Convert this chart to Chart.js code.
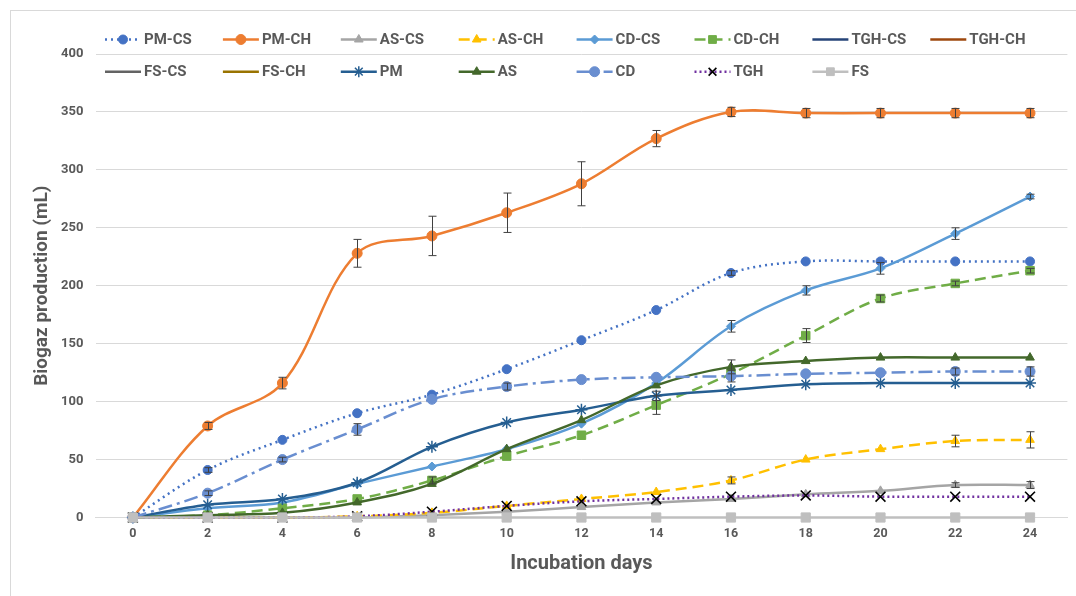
<!DOCTYPE html>
<html>
<head>
<meta charset="utf-8">
<script src="https://cdn.jsdelivr.net/npm/chart.js@4.4.1/dist/chart.umd.min.js"></script>
<style>
  body { margin: 0; background: #fff; }
  #wrap { width: 1076px; height: 596px; position: relative; }
</style>
</head>
<body>
<div id="wrap"><canvas id="myChart" width="1076" height="596"></canvas></div>
<script>
const MY_CHART = document.querySelector("#myChart");

// incubation days
const DAYS = ["0","2","4","6","8","10","12","14","16","18","20","22","24"];
const Y_TICKS = [0, 50, 100, 150, 200, 250, 300, 350, 400];

// biogas production (mL)
const PM_CS  = [0, 41, 67, 90, 106, 128, 153, 179, 211, 221, 221, 221, 221];
const PM_CH  = [0, 79, 116, 228, 243, 263, 288, 327, 350, 349, 349, 349, 349];
const AS_CS  = [0, 0, 0, 0, 2, 5, 9, 13, 16, 20, 23, 28, 28];
const AS_CH  = [0, 0, 0, 1, 4, 10, 16, 22, 32, 50, 59, 66, 67];
const CD_CS  = [0, 8, 13, 29, 44, 59, 81, 116, 165, 196, 215, 245, 277];
const CD_CH  = [0, 2, 8, 16, 32, 53, 71, 97, 124, 157, 189, 202, 213];
const TGH_CS = [];
const TGH_CH = [];
const FS_CS  = [];
const FS_CH  = [];
const PM     = [0, 11, 16, 30, 61, 82, 93, 105, 110, 115, 116, 116, 116];
const AS     = [0, 2, 4, 13, 29, 59, 84, 114, 130, 135, 138, 138, 138];
const CD     = [0, 21, 50, 76, 102, 113, 119, 121, 122, 124, 125, 126, 126];
const TGH    = [0, 0, 0, 1, 5, 10, 14, 16, 18, 19, 18, 18, 18];
const FS     = [0, 0, 0, 0, 0, 0, 0, 0, 0, 0, 0, 0, 0];

// standard deviations (error bars)
const PM_CH_ERR = [0, 3, 5, 12, 17, 17, 19, 7, 4, 4, 4, 4, 4];
const PM_CS_ERR = [0, 2, 0, 0, 0, 0, 0, 0, 2, 0, 0, 0, 0];
const CD_CS_ERR = [0, 0, 0, 0, 0, 0, 0, 0, 5, 4, 5, 5, 2];
const CD_CH_ERR = [0, 0, 0, 0, 3, 0, 0, 8, 0, 6, 3, 2, 2];
const CD_ERR    = [0, 2, 2, 5, 0, 3, 0, 0, 5, 0, 0, 3, 4];
const AS_ERR    = [0, 0, 0, 0, 0, 0, 0, 0, 6, 0, 0, 0, 0];
const AS_CH_ERR = [0, 0, 0, 0, 0, 0, 0, 0, 3, 0, 0, 5, 7];
const AS_CS_ERR = [0, 0, 0, 0, 0, 0, 0, 0, 0, 0, 0, 2, 3];
const PM_ERR    = [0, 0, 0, 0, 0, 0, 0, 4, 0, 0, 0, 0, 0];

const TXT = "#595959";
const FONT = "Roboto, 'Liberation Sans', sans-serif";

function series(label, values, color, opts) {
  return Object.assign({
    label: label,
    data: values,
    borderColor: color,
    backgroundColor: color,
    pointBackgroundColor: color,
    pointBorderColor: color,
    borderWidth: 2.5,
    pointRadius: 4.5,
    pointBorderWidth: 1,
    pointStyle: false,
    tension: 0.35,
    clip: false,
    borderDash: []
  }, opts);
}

const datasets = [
  series("PM-CS", PM_CS, "#4472C4", { pointStyle: "circle", borderDash: [2, 4], err: PM_CS_ERR }),
  series("PM-CH", PM_CH, "#ED7D31", { pointStyle: "circle", pointRadius: 5, err: PM_CH_ERR }),
  series("AS-CS", AS_CS, "#A5A5A5", { pointStyle: "triangle", pointRadius: 5, err: AS_CS_ERR }),
  series("AS-CH", AS_CH, "#FFC000", { pointStyle: "triangle", pointRadius: 5, borderDash: [11, 6], err: AS_CH_ERR }),
  series("CD-CS", CD_CS, "#5B9BD5", { pointStyle: "rectRot", pointRadius: 4.5, err: CD_CS_ERR }),
  series("CD-CH", CD_CH, "#70AD47", { pointStyle: "rect", pointRadius: 6, borderDash: [11, 6], err: CD_CH_ERR }),
  series("TGH-CS", TGH_CS, "#264478", {}),
  series("TGH-CH", TGH_CH, "#9E480E", {}),
  series("FS-CS", FS_CS, "#636363", {}),
  series("FS-CH", FS_CH, "#997300", {}),
  series("PM", PM, "#255E91", { pointStyle: "star", pointRadius: 6, pointBorderWidth: 1.5, err: PM_ERR }),
  series("AS", AS, "#43682B", { pointStyle: "triangle", pointRadius: 5, err: AS_ERR }),
  series("CD", CD, "#698ED0", { pointStyle: "circle", pointRadius: 5, borderDash: [14, 5, 3, 5], err: CD_ERR }),
  series("TGH", TGH, "#7030A0", { pointStyle: "crossRot", pointRadius: 7, pointBorderWidth: 1.6,
    pointBorderColor: "#000", pointBackgroundColor: "#000", borderDash: [2, 3] }),
  series("FS", FS, "#BFBFBF", { pointStyle: "rect", pointRadius: 6.5 })
];
// later series on top, like the spreadsheet
datasets.forEach((d, i) => { d.order = datasets.length - i; });

const data = { labels: DAYS, datasets: datasets };

// border round the whole chart
const framePlugin = {
  id: "frame",
  beforeDraw(chart) {
    const ctx = chart.ctx;
    ctx.save();
    ctx.fillStyle = "#fff";
    ctx.fillRect(0, 0, chart.width, chart.height);
    ctx.strokeStyle = "#D9D9D9";
    ctx.lineWidth = 1;
    ctx.strokeRect(10.5, 10.5, chart.width + 20, chart.height + 20);
    ctx.restore();
  }
};

// vertical error bars with caps
const errorBarPlugin = {
  id: "errorBars",
  afterDatasetsDraw(chart) {
    const ctx = chart.ctx;
    const y = chart.scales.y;
    ctx.save();
    ctx.strokeStyle = "#404040";
    ctx.lineWidth = 1;
    chart.data.datasets.forEach((ds, i) => {
      if (!ds.err) return;
      const meta = chart.getDatasetMeta(i);
      meta.data.forEach((pt, j) => {
        const e = ds.err[j];
        if (!e) return;
        const v = ds.data[j];
        const top = y.getPixelForValue(v + e);
        const bot = y.getPixelForValue(Math.max(0, v - e));
        const x = Math.round(pt.x) + 0.5;
        ctx.beginPath();
        ctx.moveTo(x, top); ctx.lineTo(x, bot);
        ctx.moveTo(x - 4, top); ctx.lineTo(x + 4, top);
        ctx.moveTo(x - 4, bot); ctx.lineTo(x + 4, bot);
        ctx.stroke();
      });
    });
    ctx.restore();
  }
};

// legend drawn as line + marker, two rows of columns
const legendPlugin = {
  id: "lineLegend",
  afterDraw(chart) {
    const ctx = chart.ctx;
    ctx.save();
    chart.data.datasets.forEach((ds, i) => {
      const col = i % 8, row = Math.floor(i / 8);
      const x0 = 105 + col * 117.9;
      const yy = 39.5 + row * 32.2;
      ctx.strokeStyle = ds.borderColor;
      ctx.lineWidth = ds.borderWidth;
      ctx.setLineDash(ds.borderDash || []);
      ctx.beginPath();
      ctx.moveTo(x0, yy); ctx.lineTo(x0 + 36, yy);
      ctx.stroke();
      ctx.setLineDash([]);
      if (ds.pointStyle) {
        ctx.fillStyle = ds.pointBackgroundColor;
        ctx.strokeStyle = ds.pointBorderColor;
        ctx.lineWidth = ds.pointBorderWidth;
        Chart.helpers.drawPoint(ctx, {
          pointStyle: ds.pointStyle, radius: Math.min(ds.pointRadius, 5.5), rotation: 0, borderWidth: ds.pointBorderWidth
        }, x0 + 18, yy);
      }
      ctx.fillStyle = TXT;
      ctx.font = "bold 15px " + FONT;
      ctx.textBaseline = "middle";
      ctx.textAlign = "left";
      ctx.fillText(ds.label, x0 + 39, yy + 1);
    });
    ctx.restore();
  }
};

const CONFIG = {
  type: "line",
  data: data,
  options: {
    responsive: false,
    animation: false,
    layout: { padding: { left: 31, top: 54, right: 6.5, bottom: 20 } },
    plugins: {
      legend: { display: false },
      tooltip: { enabled: false }
    },
    scales: {
      x: {
        offset: true,
        grid: { display: false, drawTicks: false },
        border: { display: true, color: "#D9D9D9", width: 1 },
        ticks: { color: TXT, font: { family: FONT, size: 12.5, weight: "bold" }, padding: 9, maxRotation: 0 },
        title: { display: true, text: "Incubation days", color: TXT,
                 font: { family: FONT, size: 20, weight: "bold" }, padding: { top: 4, bottom: 0 } },
        afterFit(scale) { scale.height = 58.5; }
      },
      y: {
        min: 0,
        max: 400,
        afterBuildTicks(scale) { scale.ticks = Y_TICKS.map(v => ({ value: v })); },
        grid: { color: "#D9D9D9", lineWidth: 1, drawTicks: false },
        border: { display: false },
        ticks: { color: TXT, font: { family: FONT, size: 13, weight: "bold" }, padding: 12 },
        title: { display: true, text: "Biogaz production (mL)", color: TXT,
                 font: { family: FONT, size: 19, weight: "bold" }, padding: 0 },
        afterFit(scale) { scale.width = 64.5; }
      }
    }
  },
  plugins: [framePlugin, errorBarPlugin, legendPlugin]
};

new Chart(MY_CHART, CONFIG);
</script>
</body>
</html>
